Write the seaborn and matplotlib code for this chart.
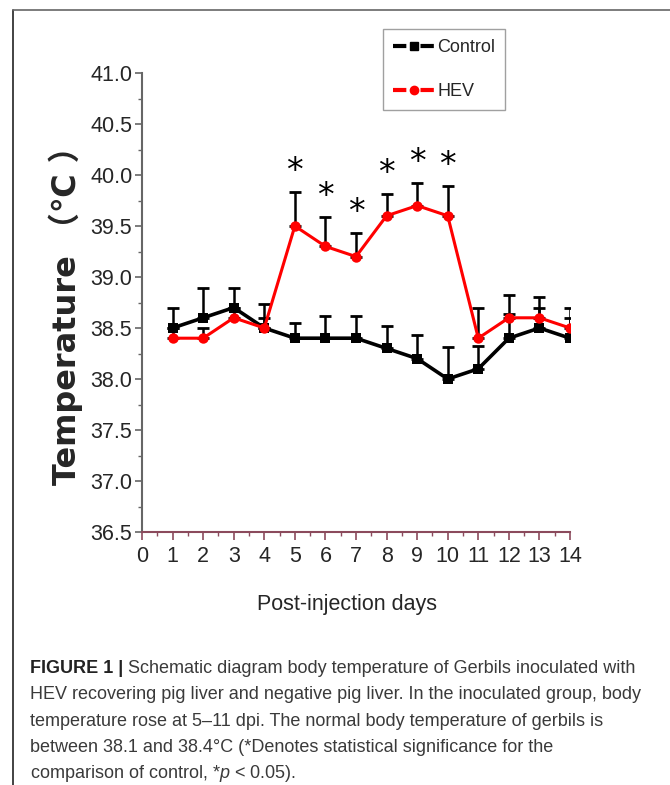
import numpy as np
import pandas as pd
import matplotlib
matplotlib.use("Agg")
import matplotlib.pyplot as plt
import seaborn as sns
from matplotlib.lines import Line2D
from matplotlib.ticker import MultipleLocator, FormatStrFormatter

days = list(range(1, 15))
control = [38.5, 38.6, 38.7, 38.5, 38.4, 38.4, 38.4, 38.3, 38.2, 38.0, 38.1, 38.4, 38.5, 38.4]
control_err = [0.2, 0.29, 0.19, 0.24, 0.15, 0.22, 0.22, 0.22, 0.23, 0.31, 0.22, 0.24, 0.2, 0.2]
hev = [38.4, 38.4, 38.6, 38.5, 39.5, 39.3, 39.2, 39.6, 39.7, 39.6, 38.4, 38.6, 38.6, 38.5]
hev_err = [0.1, 0.1, 0.1, 0.1, 0.33, 0.29, 0.23, 0.21, 0.22, 0.29, 0.3, 0.22, 0.2, 0.2]
signif_days = [5, 6, 7, 8, 9, 10]

caption_lines = [
    "Schematic diagram body temperature of Gerbils inoculated with",
    "HEV recovering pig liver and negative pig liver. In the inoculated group, body",
    "temperature rose at 5\u201311 dpi. The normal body temperature of gerbils is",
    "between 38.1 and 38.4\u00b0C (*Denotes statistical significance for the",
    "comparison of control, *$p$ < 0.05).",
]

df = pd.DataFrame({
    "day": days * 2,
    "temp": control + hev,
    "group": ["Control"] * len(days) + ["HEV"] * len(days),
})

sns.set_style("ticks")
plt.rcParams["font.family"] = ["Liberation Sans", "DejaVu Sans"]
plt.rcParams["mathtext.fontset"] = "custom"
plt.rcParams["mathtext.it"] = "Liberation Sans:italic"
plt.rcParams["mathtext.rm"] = "Liberation Sans"

fig = plt.figure(figsize=(6.7, 7.85), dpi=100)
ax = fig.add_axes([142 / 670, 1 - 532 / 785, 428 / 670, 459 / 785])

# error bars (upper only), drawn under the lines
ax.errorbar(days, control, yerr=[np.zeros(len(days)), control_err], fmt="none",
            ecolor="black", elinewidth=1.8, capsize=4, capthick=2, zorder=1)
ax.errorbar(days, hev, yerr=[np.zeros(len(days)), hev_err], fmt="none",
            ecolor="black", elinewidth=1.8, capsize=4, capthick=2, zorder=1)

sns.lineplot(data=df[df.group == "Control"], x="day", y="temp", color="black",
             marker="s", markersize=7, markeredgewidth=0, linewidth=2.6, ax=ax, zorder=2)
sns.lineplot(data=df[df.group == "HEV"], x="day", y="temp", color="red",
             marker="o", markersize=7.5, markeredgewidth=0, linewidth=2.2, ax=ax, zorder=3)

# significance stars
for d in signif_days:
    i = days.index(d)
    ax.text(d, hev[i] + hev_err[i] + 0.2, "*", ha="center", va="center",
            fontsize=24, color="black", family="DejaVu Sans")

ax.set_xlim(0, 14)
ax.set_ylim(36.5, 41.0)
ax.xaxis.set_major_locator(MultipleLocator(1))
ax.xaxis.set_minor_locator(MultipleLocator(0.5))
ax.yaxis.set_major_locator(MultipleLocator(0.5))
ax.yaxis.set_minor_locator(MultipleLocator(0.25))
ax.yaxis.set_major_formatter(FormatStrFormatter("%.1f"))
ax.set_xlabel("")
ax.set_ylabel("")

for s in ["top", "right"]:
    ax.spines[s].set_visible(False)
ax.spines["left"].set_color("#666666")
ax.spines["left"].set_linewidth(1.5)
ax.spines["bottom"].set_color("#8b4a5c")
ax.spines["bottom"].set_linewidth(1.5)
ax.tick_params(axis="y", which="major", direction="out", length=5, width=1.2,
               color="#666666", labelsize=15.5, pad=2)
ax.tick_params(axis="y", which="minor", direction="out", length=3, width=1.0, color="#666666")
ax.tick_params(axis="x", which="major", direction="out", length=6, width=1.2,
               color="#8b4a5c", labelsize=15.5, pad=4)
ax.tick_params(axis="x", which="minor", direction="out", length=3, width=1.0, color="#8b4a5c")

fig.text(66 / 670, 1 - 308 / 785, "Temperature \uff08\u2103 \uff09", rotation=90,
         ha="center", va="center", fontsize=23, fontweight="bold",
         family=["DejaVu Sans", "Noto Sans CJK SC"])
fig.text(347 / 670, 1 - 610 / 785, "Post-injection days", ha="center",
         va="baseline", fontsize=15.5)

# legend with broken line around marker
handles = [
    Line2D([], [], color="black", linewidth=3, marker="s", markersize=6,
           dashes=(3.2, 3.4, 3.2, 100)),
    Line2D([], [], color="red", linewidth=3, marker="o", markersize=6,
           dashes=(3.2, 3.4, 3.2, 100)),
]
leg = fig.legend(handles, ["Control", "HEV"], loc="upper left",
                 bbox_to_anchor=(383 / 670, 1 - 29 / 785), fontsize=13,
                 frameon=True, fancybox=False, edgecolor="#888888",
                 handlelength=2.35, handletextpad=0.1, borderpad=0.55,
                 labelspacing=1.5, borderaxespad=0)
leg.get_frame().set_linewidth(1.0)

# figure border lines
fig.add_artist(Line2D([13 / 670, 13 / 670], [0, 1 - 10 / 785], color="#222222", linewidth=1.2))
fig.add_artist(Line2D([13 / 670, 1], [1 - 10 / 785, 1 - 10 / 785], color="#666666", linewidth=1.2))

# caption
cap_font = ["Liberation Sans", "DejaVu Sans"]
cap_size = 13
baselines = [673, 699, 725.5, 752, 778]
fig.canvas.draw()
renderer = fig.canvas.get_renderer()
head = fig.text(30 / 670, 1 - baselines[0] / 785, "FIGURE 1 | ", fontsize=cap_size,
                fontweight="bold", color="#222222", family=cap_font, va="baseline")
bb = head.get_window_extent(renderer=renderer)
fig.text(bb.x1 / fig.bbox.width, 1 - baselines[0] / 785, caption_lines[0], fontsize=cap_size,
         color="#3a3a3a", family=cap_font, va="baseline")
for line, b in zip(caption_lines[1:], baselines[1:]):
    fig.text(30 / 670, 1 - b / 785, line, fontsize=cap_size, color="#3a3a3a",
             family=cap_font, va="baseline")

fig.savefig("out.png", dpi=100)
